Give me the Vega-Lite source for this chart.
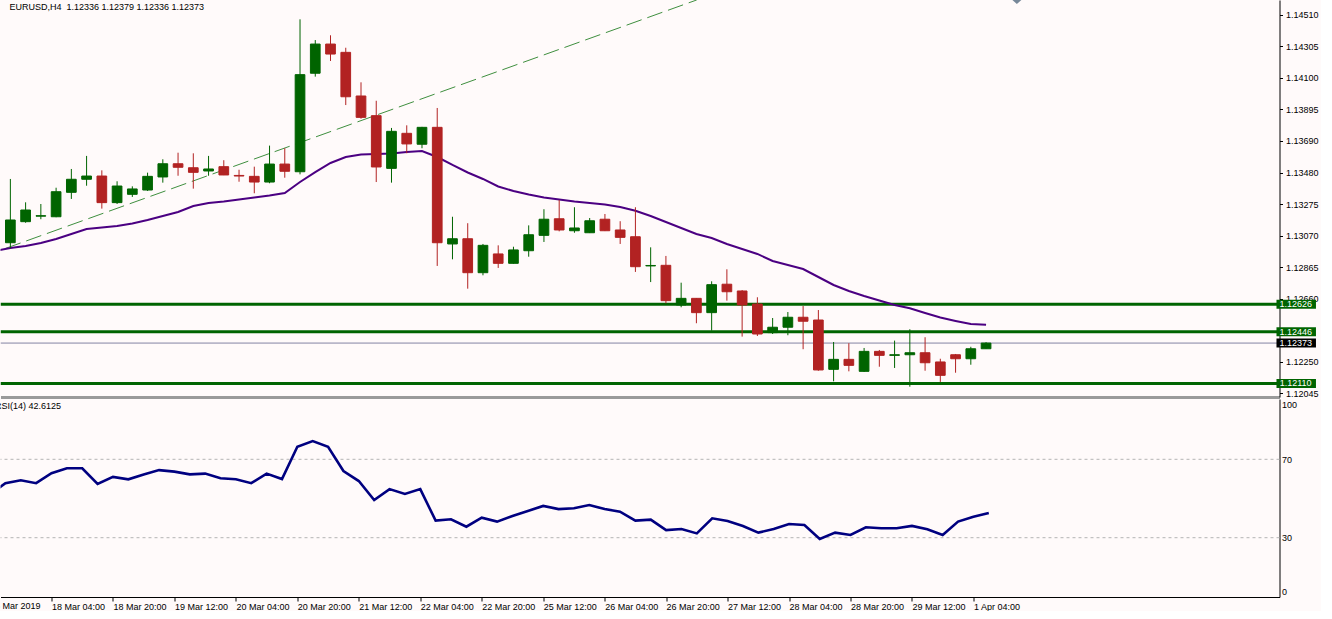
{
  "$schema": "https://vega.github.io/schema/vega-lite/v6.json",
  "background": "#FFFAFA",
  "padding": {"left": -10.5, "top": 0, "right": 0, "bottom": 0},
  "config": {
    "view": {"stroke": null},
    "font": "Liberation Sans",
    "axis": {"labelFont": "Liberation Sans", "labelFontSize": 9, "labelColor": "#000000", "domainColor": "#000000", "tickColor": "#000000", "grid": false, "labelOverlap": false, "labelBound": false, "labelFlush": false}
  },
  "datasets": {
    "candles": [
      {"i":0,"o":1.13026,"h":1.13441,"l":1.12990,"c":1.13174},
      {"i":1,"o":1.13163,"h":1.13289,"l":1.13156,"c":1.13239},
      {"i":2,"o":1.13199,"h":1.13278,"l":1.13179,"c":1.13202},
      {"i":3,"o":1.13195,"h":1.13384,"l":1.13192,"c":1.13358},
      {"i":4,"o":1.13354,"h":1.13506,"l":1.13311,"c":1.13439},
      {"i":5,"o":1.13439,"h":1.13591,"l":1.13397,"c":1.13460},
      {"i":6,"o":1.13460,"h":1.13497,"l":1.13248,"c":1.13287},
      {"i":7,"o":1.13287,"h":1.13426,"l":1.13278,"c":1.13395},
      {"i":8,"o":1.13341,"h":1.13393,"l":1.13324,"c":1.13376},
      {"i":9,"o":1.13369,"h":1.13482,"l":1.13363,"c":1.13458},
      {"i":10,"o":1.13454,"h":1.13569,"l":1.13417,"c":1.13540},
      {"i":11,"o":1.13540,"h":1.13612,"l":1.13462,"c":1.13517},
      {"i":12,"o":1.13514,"h":1.13608,"l":1.13378,"c":1.13484},
      {"i":13,"o":1.13493,"h":1.13591,"l":1.13462,"c":1.13506},
      {"i":14,"o":1.13521,"h":1.13563,"l":1.13466,"c":1.13467},
      {"i":15,"o":1.13464,"h":1.13501,"l":1.13423,"c":1.13460},
      {"i":16,"o":1.13458,"h":1.13521,"l":1.13348,"c":1.13421},
      {"i":17,"o":1.13421,"h":1.13658,"l":1.13413,"c":1.13538},
      {"i":18,"o":1.13538,"h":1.13641,"l":1.13449,"c":1.13491},
      {"i":19,"o":1.13488,"h":1.14480,"l":1.13471,"c":1.14120},
      {"i":20,"o":1.14129,"h":1.14345,"l":1.14107,"c":1.14319},
      {"i":21,"o":1.14319,"h":1.14376,"l":1.14209,"c":1.14254},
      {"i":22,"o":1.14265,"h":1.14295,"l":1.13922,"c":1.13976},
      {"i":23,"o":1.13981,"h":1.14070,"l":1.13833,"c":1.13842},
      {"i":24,"o":1.13853,"h":1.13950,"l":1.13421,"c":1.13519},
      {"i":25,"o":1.13510,"h":1.13773,"l":1.13417,"c":1.13751},
      {"i":26,"o":1.13738,"h":1.13790,"l":1.13608,"c":1.13669},
      {"i":27,"o":1.13667,"h":1.13780,"l":1.13641,"c":1.13777},
      {"i":28,"o":1.13777,"h":1.13903,"l":1.12875,"c":1.13026},
      {"i":29,"o":1.13018,"h":1.13195,"l":1.12918,"c":1.13052},
      {"i":30,"o":1.13052,"h":1.13153,"l":1.12727,"c":1.12831},
      {"i":31,"o":1.12831,"h":1.13018,"l":1.12814,"c":1.13009},
      {"i":32,"o":1.12953,"h":1.13009,"l":1.12862,"c":1.12892},
      {"i":33,"o":1.12892,"h":1.13000,"l":1.12890,"c":1.12979},
      {"i":34,"o":1.12974,"h":1.13139,"l":1.12935,"c":1.13078},
      {"i":35,"o":1.13074,"h":1.13244,"l":1.13031,"c":1.13179},
      {"i":36,"o":1.13182,"h":1.13304,"l":1.13100,"c":1.13109},
      {"i":37,"o":1.13104,"h":1.13257,"l":1.13091,"c":1.13122},
      {"i":38,"o":1.13091,"h":1.13187,"l":1.13089,"c":1.13169},
      {"i":39,"o":1.13179,"h":1.13213,"l":1.13102,"c":1.13104},
      {"i":40,"o":1.13109,"h":1.13166,"l":1.13018,"c":1.13061},
      {"i":41,"o":1.13065,"h":1.13257,"l":1.12836,"c":1.12870},
      {"i":42,"o":1.12875,"h":1.12996,"l":1.12770,"c":1.12878},
      {"i":43,"o":1.12879,"h":1.12940,"l":1.12632,"c":1.12649},
      {"i":44,"o":1.12621,"h":1.12766,"l":1.12606,"c":1.12664},
      {"i":45,"o":1.12664,"h":1.12666,"l":1.12502,"c":1.12571},
      {"i":46,"o":1.12571,"h":1.12775,"l":1.12454,"c":1.12753},
      {"i":47,"o":1.12756,"h":1.12853,"l":1.12649,"c":1.12707},
      {"i":48,"o":1.12712,"h":1.12718,"l":1.12415,"c":1.12621},
      {"i":49,"o":1.12627,"h":1.12671,"l":1.12419,"c":1.12432},
      {"i":50,"o":1.12441,"h":1.12536,"l":1.12432,"c":1.12476},
      {"i":51,"o":1.12476,"h":1.12575,"l":1.12424,"c":1.12541},
      {"i":52,"o":1.12541,"h":1.12614,"l":1.12333,"c":1.12515},
      {"i":53,"o":1.12523,"h":1.12588,"l":1.12193,"c":1.12198},
      {"i":54,"o":1.12202,"h":1.12380,"l":1.12124,"c":1.12267},
      {"i":55,"o":1.12267,"h":1.12372,"l":1.12189,"c":1.12228},
      {"i":56,"o":1.12189,"h":1.12341,"l":1.12185,"c":1.12319},
      {"i":57,"o":1.12319,"h":1.12328,"l":1.12219,"c":1.12293},
      {"i":58,"o":1.12293,"h":1.12389,"l":1.12211,"c":1.12297},
      {"i":59,"o":1.12297,"h":1.12463,"l":1.12089,"c":1.12310},
      {"i":60,"o":1.12310,"h":1.12411,"l":1.12193,"c":1.12245},
      {"i":61,"o":1.12250,"h":1.12271,"l":1.12120,"c":1.12163},
      {"i":62,"o":1.12297,"h":1.12302,"l":1.12180,"c":1.12271},
      {"i":63,"o":1.12271,"h":1.12349,"l":1.12232,"c":1.12336},
      {"i":64,"o":1.12336,"h":1.12379,"l":1.12336,"c":1.12373}
    ],
    "ma": [
      {"i":-1,"ma":1.12972},{"i":0,"ma":1.12992},{"i":1,"ma":1.13005},{"i":2,"ma":1.13024},{"i":3,"ma":1.13050},
      {"i":4,"ma":1.13083},{"i":5,"ma":1.13115},{"i":6,"ma":1.13125},{"i":7,"ma":1.13135},{"i":8,"ma":1.13151},
      {"i":9,"ma":1.13174},{"i":10,"ma":1.13200},{"i":11,"ma":1.13226},{"i":12,"ma":1.13265},{"i":13,"ma":1.13285},
      {"i":14,"ma":1.13294},{"i":15,"ma":1.13307},{"i":16,"ma":1.13320},{"i":17,"ma":1.13333},{"i":18,"ma":1.13350},
      {"i":19,"ma":1.13421},{"i":20,"ma":1.13486},{"i":21,"ma":1.13545},{"i":22,"ma":1.13584},{"i":23,"ma":1.13600},
      {"i":24,"ma":1.13604},{"i":25,"ma":1.13607},{"i":26,"ma":1.13617},{"i":27,"ma":1.13623},{"i":28,"ma":1.13584},
      {"i":29,"ma":1.13532},{"i":30,"ma":1.13483},{"i":31,"ma":1.13441},{"i":32,"ma":1.13392},{"i":33,"ma":1.13363},
      {"i":34,"ma":1.13340},{"i":35,"ma":1.13320},{"i":36,"ma":1.13307},{"i":37,"ma":1.13294},{"i":38,"ma":1.13285},
      {"i":39,"ma":1.13275},{"i":40,"ma":1.13259},{"i":41,"ma":1.13234},{"i":42,"ma":1.13200},{"i":43,"ma":1.13161},
      {"i":44,"ma":1.13122},{"i":45,"ma":1.13083},{"i":46,"ma":1.13057},{"i":47,"ma":1.13018},{"i":48,"ma":1.12985},
      {"i":49,"ma":1.12953},{"i":50,"ma":1.12907},{"i":51,"ma":1.12881},{"i":52,"ma":1.12855},{"i":53,"ma":1.12803},
      {"i":54,"ma":1.12751},{"i":55,"ma":1.12712},{"i":56,"ma":1.12679},{"i":57,"ma":1.12650},{"i":58,"ma":1.12621},
      {"i":59,"ma":1.12599},{"i":60,"ma":1.12569},{"i":61,"ma":1.12539},{"i":62,"ma":1.12517},{"i":63,"ma":1.12497},
      {"i":64,"ma":1.12493}
    ],
    "trend": [{"i":-0.32,"p":1.12989},{"i":45.02,"p":1.14606}],
    "levels": [
      {"price":1.12626,"kind":"level"},
      {"price":1.12446,"kind":"level"},
      {"price":1.12110,"kind":"level"},
      {"price":1.12373,"kind":"bid"}
    ],
    "rsi": [
      {"i":-1,"rsi":52.0},{"i":0,"rsi":57.8},{"i":1,"rsi":59.3},{"i":2,"rsi":57.8},{"i":3,"rsi":62.9},
      {"i":4,"rsi":65.4},{"i":5,"rsi":65.4},{"i":6,"rsi":57.4},{"i":7,"rsi":61.0},{"i":8,"rsi":59.8},
      {"i":9,"rsi":62.3},{"i":10,"rsi":64.5},{"i":11,"rsi":63.7},{"i":12,"rsi":62.3},{"i":13,"rsi":62.7},
      {"i":14,"rsi":60.3},{"i":15,"rsi":59.8},{"i":16,"rsi":57.8},{"i":17,"rsi":62.7},{"i":18,"rsi":59.9},
      {"i":19,"rsi":76.4},{"i":20,"rsi":79.3},{"i":21,"rsi":76.4},{"i":22,"rsi":64.0},{"i":23,"rsi":58.9},
      {"i":24,"rsi":49.2},{"i":25,"rsi":54.8},{"i":26,"rsi":52.3},{"i":27,"rsi":54.8},{"i":28,"rsi":38.7},
      {"i":29,"rsi":39.4},{"i":30,"rsi":35.6},{"i":31,"rsi":40.2},{"i":32,"rsi":38.2},{"i":33,"rsi":41.1},
      {"i":34,"rsi":43.6},{"i":35,"rsi":46.2},{"i":36,"rsi":44.6},{"i":37,"rsi":45.0},{"i":38,"rsi":46.7},
      {"i":39,"rsi":44.6},{"i":40,"rsi":43.3},{"i":41,"rsi":38.7},{"i":42,"rsi":39.2},{"i":43,"rsi":33.9},
      {"i":44,"rsi":34.4},{"i":45,"rsi":32.2},{"i":46,"rsi":39.9},{"i":47,"rsi":38.5},{"i":48,"rsi":36.0},
      {"i":49,"rsi":32.6},{"i":50,"rsi":34.4},{"i":51,"rsi":37.0},{"i":52,"rsi":36.5},{"i":53,"rsi":29.3},
      {"i":54,"rsi":32.6},{"i":55,"rsi":31.4},{"i":56,"rsi":35.3},{"i":57,"rsi":34.8},{"i":58,"rsi":34.8},
      {"i":59,"rsi":36.0},{"i":60,"rsi":34.3},{"i":61,"rsi":31.4},{"i":62,"rsi":38.2},{"i":63,"rsi":40.7},
      {"i":64,"rsi":42.6125}
    ],
    "rsilevels": [{"lv":70},{"lv":30}]
  },
  "spacing": 2,
  "bounds": "flush",
  "resolve": {"scale": {"x": "independent", "y": "independent"}},
  "vconcat": [
    {
      "width": 1279,
      "height": 397,
      "layer": [
        {
          "data": {"name": "levels"},
          "transform": [{"filter": "datum.kind == 'level'"}],
          "mark": {"type": "rule", "strokeWidth": 3, "color": "#006400", "clip": true},
          "encoding": {
            "y": {"field": "price", "type": "quantitative", "title": null,
                  "scale": {"domain": [1.12022, 1.146057], "zero": false, "nice": false},
                  "axis": {"orient": "right", "values": [1.1451,1.14305,1.141,1.13895,1.1369,1.1348,1.13275,1.1307,1.12865,1.1266,1.1225,1.12045],
                           "tickCount": 40, "format": ".5f", "tickSize": 3, "labelPadding": 3, "labelOverlap": false, "labelBound": false, "labelFlush": false, "domainColor": "#000000"}}
          }
        },
        {
          "data": {"name": "levels"},
          "transform": [{"filter": "datum.kind == 'bid'"}],
          "mark": {"type": "rule", "strokeWidth": 1, "color": "#8484a4", "clip": true},
          "encoding": {
            "y": {"field": "price", "type": "quantitative", "title": null}
          }
        },
        {
          "data": {"name": "trend"},
          "mark": {"type": "line", "color": "#3f8f3f", "strokeWidth": 1, "strokeDash": [16, 6], "clip": true},
          "encoding": {
            "x": {"field": "i", "type": "quantitative", "title": null,
                  "scale": {"domain": [-0.319, 82.92], "zero": false, "nice": false},
                  "axis": {"orient": "bottom", "ticks": false, "labels": false, "domainColor": "#9a9a9a", "domainWidth": 3}},
            "y": {"field": "p", "type": "quantitative", "title": null}
          }
        },
        {
          "data": {"name": "ma"},
          "mark": {"type": "line", "color": "#4B0082", "strokeWidth": 2, "clip": true},
          "encoding": {
            "x": {"field": "i", "type": "quantitative", "title": null},
            "y": {"field": "ma", "type": "quantitative", "title": null}
          }
        },
        {
          "data": {"name": "candles"},
          "mark": {"type": "rule", "strokeWidth": 1, "clip": true},
          "encoding": {
            "x": {"field": "i", "type": "quantitative", "title": null},
            "y": {"field": "l", "type": "quantitative", "title": null},
            "y2": {"field": "h"},
            "color": {"condition": {"test": "datum.c >= datum.o", "value": "#006400"}, "value": "#B22222"}
          }
        },
        {
          "data": {"name": "candles"},
          "mark": {"type": "bar", "width": 9.7, "strokeWidth": 1, "clip": true},
          "encoding": {
            "x": {"field": "i", "type": "quantitative", "title": null},
            "y": {"field": "o", "type": "quantitative", "title": null},
            "y2": {"field": "c"},
            "color": {"condition": {"test": "datum.c >= datum.o", "value": "#006400"}, "value": "#B22222"},
            "stroke": {"condition": {"test": "datum.c >= datum.o", "value": "#006400"}, "value": "#B22222"}
          }
        },
        {
          "data": {"name": "levels"},
          "mark": {"type": "rule", "strokeWidth": 9, "strokeCap": "butt"},
          "encoding": {
            "x": {"datum": 83.05, "type": "quantitative"},
            "x2": {"datum": 85.64},
            "y": {"field": "price", "type": "quantitative", "title": null},
            "color": {"condition": {"test": "datum.kind == 'bid'", "value": "#000000"}, "value": "#006400"}
          }
        },
        {
          "data": {"name": "levels"},
          "mark": {"type": "text", "align": "center", "baseline": "middle", "fontSize": 9, "font": "Liberation Sans", "color": "#ffffff"},
          "encoding": {
            "x": {"datum": 84.31, "type": "quantitative"},
            "y": {"field": "price", "type": "quantitative", "title": null},
            "text": {"field": "price", "format": ".5f"}
          }
        },
        {
          "data": {"values": [{}]},
          "mark": {"type": "text", "align": "left", "baseline": "middle", "fontSize": 9, "font": "Liberation Sans", "color": "#000000"},
          "encoding": {
            "x": {"datum": -0.06, "type": "quantitative"},
            "y": {"datum": 1.14560, "type": "quantitative"},
            "text": {"value": "EURUSD,H4\u00a0\u00a01.12336 1.12379 1.12336 1.12373"}
          }
        },
        {
          "data": {"values": [{}]},
          "mark": {"type": "point", "shape": "M-1,0L1,0L0,0.9Z", "size": 81, "filled": true, "color": "#778899", "opacity": 1},
          "encoding": {
            "x": {"datum": 66.02, "type": "quantitative"},
            "y": {"datum": 1.146057, "type": "quantitative"}
          }
        }
      ]
    },
    {
      "width": 1279,
      "height": 198,
      "layer": [
        {
          "data": {"name": "rsilevels"},
          "mark": {"type": "rule", "strokeWidth": 1, "color": "#b4b4b4", "strokeDash": [3, 3]},
          "encoding": {
            "y": {"field": "lv", "type": "quantitative", "title": null,
                  "scale": {"domain": [-0.26, 100.77], "zero": false, "nice": false},
                  "axis": {"orient": "right", "values": [0, 30, 70, 100], "tickCount": 20, "format": "d", "tickSize": 0, "labelPadding": 2,
                           "labelOverlap": false, "labelBound": false, "labelFlush": false, "domainColor": "#000000",
                           "labelBaseline": {"condition": [{"test": "datum.value == 100", "value": "top"}, {"test": "datum.value == 0", "value": "bottom"}], "value": "middle"}}}
          }
        },
        {
          "data": {"name": "rsi"},
          "mark": {"type": "line", "color": "#000080", "strokeWidth": 2.6, "clip": true},
          "encoding": {
            "x": {"field": "i", "type": "quantitative", "title": null,
                  "scale": {"domain": [-0.319, 82.92], "zero": false, "nice": false},
                  "axis": {"orient": "bottom", "values": [3,7,11,15,19,23,27,31,35,39,43,47,51,55,59,63], "tickCount": 40,
                           "labelExpr": "['15 Mar 2019','18 Mar 04:00','18 Mar 20:00','19 Mar 12:00','20 Mar 04:00','20 Mar 20:00','21 Mar 12:00','22 Mar 04:00','22 Mar 20:00','25 Mar 12:00','26 Mar 04:00','26 Mar 20:00','27 Mar 12:00','28 Mar 04:00','28 Mar 20:00','29 Mar 12:00','1 Apr 04:00'][(datum.value + 1) / 4]",
                           "tickSize": 4, "labelAlign": "left", "labelBaseline": "top", "labelPadding": 1,
                           "labelFlush": false, "labelOverlap": false, "labelBound": false, "domainColor": "#000000"}},
            "y": {"field": "rsi", "type": "quantitative", "title": null}
          }
        },
        {
          "data": {"values": [{}]},
          "mark": {"type": "text", "align": "left", "baseline": "top", "fontSize": 9, "font": "Liberation Sans", "color": "#000000"},
          "encoding": {
            "x": {"datum": -1, "type": "quantitative"},
            "y": {"datum": -2.81, "type": "quantitative"},
            "text": {"value": "15 Mar 2019"}
          }
        },
        {
          "data": {"values": [{}]},
          "mark": {"type": "text", "align": "left", "baseline": "middle", "fontSize": 9, "font": "Liberation Sans", "color": "#000000"},
          "encoding": {
            "x": {"datum": -0.68, "type": "quantitative"},
            "y": {"datum": 97.3, "type": "quantitative"},
            "text": {"value": "RSI(14) 42.6125"}
          }
        }
      ]
    }
  ]
}
